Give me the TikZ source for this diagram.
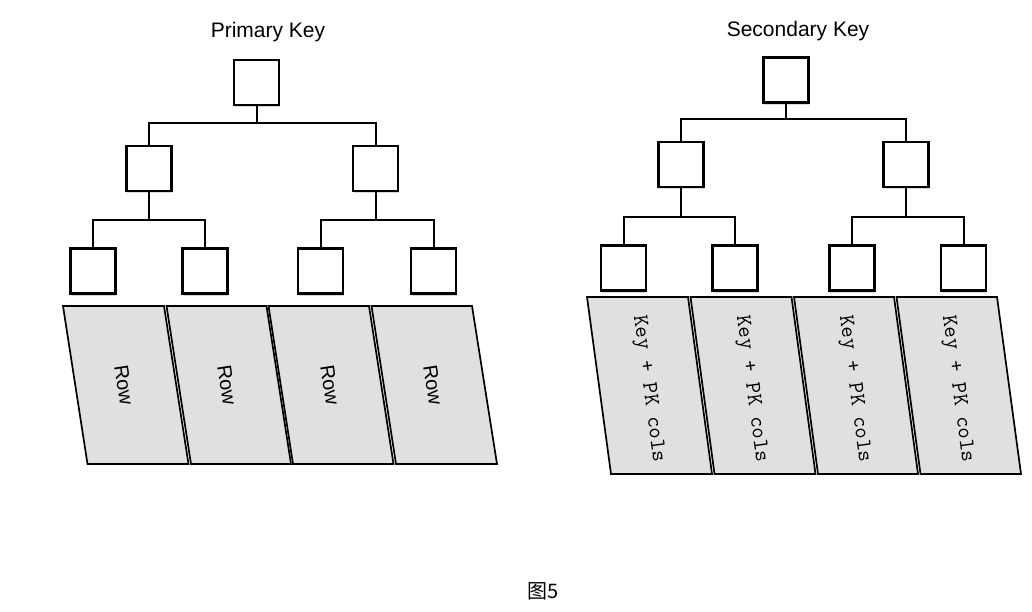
\documentclass[tikz,border=0pt]{standalone}
\usepackage{fontspec}
\setmainfont{Liberation Sans}
\newfontfamily\cjk{Noto Sans CJK SC}
\usetikzlibrary{shadows}
\definecolor{cellgray}{HTML}{E0E0E0}

\begin{document}
\begin{tikzpicture}[x=1pt, y=-1pt, every node/.style={font=\fontsize{20}{24}\selectfont}, key/.style={draw, line width=2.2pt, fill=white, minimum size=45pt, inner sep=0pt, drop shadow={shadow xshift=0.8pt, shadow yshift=-2.2pt, opacity=0.3}}, link/.style={line width=2pt}, cell/.style={draw, line width=1.7pt, fill=cellgray}, rowtext/.style={rotate=-81.2, font=\fontsize{20}{24}\selectfont}, pktext/.style={rotate=-82.3, font=\ttfamily\fontsize{22}{24}\selectfont}, title/.style={anchor=base, font=\fontsize{21}{25}\selectfont}]
\useasboundingbox (0,0) rectangle (1032,612);

% primary key tree
\node[title] (pktitle) at (268,38) {Primary Key};
\node[key] (pk) at (256.5,82.5) {};
\node[key] (pkl) at (149,168.5) {};
\node[key] (pkr) at (375.5,168.5) {};
\node[key] (pkll) at (93,271) {};
\node[key] (pklr) at (205,271) {};
\node[key] (pkrl) at (320.5,271) {};
\node[key] (pkrr) at (433.5,271) {};
\draw[link] (pk.south) -- ++(0,17) -| (pkl.north);
\draw[link] (pk.south) -- ++(0,17) -| (pkr.north);
\draw[link] (pkl.south) -- ++(0,28) -| (pkll.north);
\draw[link] (pkl.south) -- ++(0,28) -| (pklr.north);
\draw[link] (pkr.south) -- ++(0,28) -| (pkrl.north);
\draw[link] (pkr.south) -- ++(0,28) -| (pkrr.north);

% rows
\filldraw[cell] (63,306) -- (164,306) -- (188.5,464) -- (87.5,464) -- cycle;
\filldraw[cell] (166.5,306) -- (266.5,306) -- (291,464) -- (191,464) -- cycle;
\filldraw[cell] (268.5,306) -- (369,306) -- (393.5,464) -- (293,464) -- cycle;
\filldraw[cell] (371.5,306) -- (472,306) -- (497,464) -- (396,464) -- cycle;
\node[rowtext] (row1) at (124,385) {Row};
\node[rowtext] (row2) at (227,385) {Row};
\node[rowtext] (row3) at (330,385) {Row};
\node[rowtext] (row4) at (433,385) {Row};

% secondary key tree
\node[title] (sktitle) at (798,37) {Secondary Key};
\node[key] (sk) at (786,80) {};
\node[key] (skl) at (681,164.5) {};
\node[key] (skr) at (906,164.5) {};
\node[key] (skll) at (623.5,268) {};
\node[key] (sklr) at (735,268) {};
\node[key] (skrl) at (852,268) {};
\node[key] (skrr) at (963.5,268) {};
\draw[link] (sk.south) -- ++(0,15) -| (skl.north);
\draw[link] (sk.south) -- ++(0,15) -| (skr.north);
\draw[link] (skl.south) -- ++(0,29) -| (skll.north);
\draw[link] (skl.south) -- ++(0,29) -| (sklr.north);
\draw[link] (skr.south) -- ++(0,29) -| (skrl.north);
\draw[link] (skr.south) -- ++(0,29) -| (skrr.north);

% key + pk cols
\filldraw[cell] (587,297) -- (688,297) -- (712,474) -- (611,474) -- cycle;
\filldraw[cell] (690.5,297) -- (791.5,297) -- (815.5,474) -- (714.5,474) -- cycle;
\filldraw[cell] (794,297) -- (894,297) -- (918,474) -- (818,474) -- cycle;
\filldraw[cell] (896.5,297) -- (997,297) -- (1021,474) -- (920.5,474) -- cycle;
\node[pktext] (col1) at (648,389) {Key + PK cols};
\node[pktext] (col2) at (751,389) {Key + PK cols};
\node[pktext] (col3) at (854,389) {Key + PK cols};
\node[pktext] (col4) at (957,389) {Key + PK cols};

\node (caption) at (543,591) {\cjk 图5};
\end{tikzpicture}
\end{document}
